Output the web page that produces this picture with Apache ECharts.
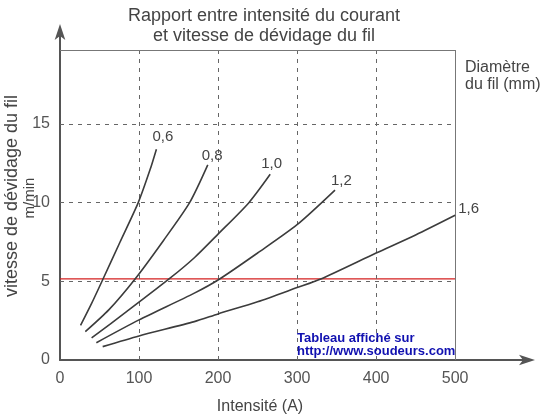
<!DOCTYPE html>
<html><head><meta charset="utf-8">
<script src="https://cdn.jsdelivr.net/npm/echarts@6/dist/echarts.min.js"></script>
<style>html,body{margin:0;padding:0;background:#fff}#c{width:552px;height:420px}</style>
</head><body><div id="c"></div>
<script>
// ---- data ----
const xTicks = [0, 100, 200, 300, 400, 500];
const yTicks = [0, 5, 10, 15];
const diameters = ['0,6', '0,8', '1,0', '1,2', '1,6'];
const d06 = [[26,2.2],[40,3.6],[54,5.1],[76,7.5],[99,10],[114,12.1],[122,13.4]];
const d08 = [[32,1.8],[62,3.2],[95,5.15],[131,7.6],[164,10],[187,12.4]];
const d10 = [[40,1.4],[85,3.1],[138,5.15],[170,6.5],[200,8.0],[239,10],[266,11.8]];
const d12 = [[46,1.1],[100,2.55],[170,4.25],[202,5.15],[250,6.8],[300,8.6],[348,10.8]];
const d16 = [[54,0.85],[100,1.53],[170,2.44],[200,2.93],[250,3.7],[300,4.6],[330,5.15],[400,6.8],[450,7.95],[500,9.2]];
const redLevel = 5.15;
const redLine = [[0, redLevel], [500, redLevel]];
const boxTop = 19.7, boxRight = 500;
const xMax = 596, yMax = 21.1;

const curves = [d06, d08, d10, d12, d16];
const labelOffsets = [[-4,-12],[-6,-9],[-9,-10],[-4,-9],[3,-6]];

const ff = 'Liberation Sans';
const dashed = {color: '#666', type: [4,5], width: 1};
const gridLines = [];
xTicks.filter(v => v > 0 && v < boxRight).forEach(v => gridLines.push([{coord:[v,0]},{coord:[v,boxTop]}]));
yTicks.filter(v => v > 0).forEach(v => gridLines.push([{coord:[0,v]},{coord:[boxRight,v]}]));

const series = [{
  type: 'line', data: [], silent: true, z: 1,
  markLine: {silent: true, symbol: 'none', label: {show: false}, lineStyle: dashed, animation: false, data: gridLines}
},{
  type: 'line', data: [], silent: true, z: 2,
  markLine: {silent: true, symbol: 'none', label: {show: false}, animation: false,
    lineStyle: {color: '#777', type: 'solid', width: 1},
    data: [[{coord:[0,boxTop]},{coord:[boxRight,boxTop]}],[{coord:[boxRight,0]},{coord:[boxRight,boxTop]}]]}
},{
  type: 'line', data: redLine, silent: true, z: 3, showSymbol: false, symbol: 'none',
  lineStyle: {color: '#d42020', width: 1.2}, itemStyle: {color: '#d42020'}
}];
curves.forEach((c, i) => {
  series.push({
    type: 'line', data: c, smooth: 0.25, showSymbol: false, symbol: 'none', z: 5,
    lineStyle: {color: '#3c3c3c', width: 1.6}, itemStyle: {color: '#3c3c3c'},
    endLabel: {show: true, formatter: diameters[i], distance: 0, offset: labelOffsets[i],
      color: '#444', fontSize: 15, fontFamily: ff}
  });
});

const chart = echarts.init(document.getElementById('c'), null, {renderer: 'canvas'});
chart.setOption({
  animation: false,
  grid: {left: 60, right: 21, top: 28, bottom: 60},
  xAxis: {
    type: 'value', min: 0, max: xMax, interval: 100,
    axisLine: {show: true, lineStyle: {color: '#555', width: 2}, symbol: ['none','arrow'], symbolSize: [8,16], symbolOffset: [0, 4]},
    axisTick: {show: false}, splitLine: {show: false},
    axisLabel: {color: '#555', fontSize: 16, fontFamily: ff, margin: 11, showMaxLabel: false,
      formatter: v => xTicks.includes(v) ? String(v) : ''}
  },
  yAxis: {
    type: 'value', min: 0, max: yMax, interval: 5,
    axisLine: {show: true, lineStyle: {color: '#555', width: 2}, symbol: ['none','arrow'], symbolSize: [8,16], symbolOffset: [0, 4]},
    axisTick: {show: false}, splitLine: {show: false},
    axisLabel: {color: '#555', fontSize: 16, fontFamily: ff, margin: 10, showMaxLabel: false,
      formatter: v => yTicks.includes(v) ? String(v) : ''}
  },
  series: series,
  graphic: [
    {type: 'text', style: {text: 'Rapport entre intensité du courant\net vitesse de dévidage du fil', x: 264, y: 26, fill: '#444', font: '18px "Liberation Sans"', textAlign: 'center', textVerticalAlign: 'middle', lineHeight: 20}},
    {type: 'text', style: {text: 'Diamètre\ndu fil (mm)', x: 465, y: 76, fill: '#444', font: '16px "Liberation Sans"', textAlign: 'left', textVerticalAlign: 'middle', lineHeight: 17}},
    {type: 'text', x: 12, y: 196, rotation: Math.PI/2, style: {text: 'vitesse de dévidage du fil', x: 0, y: 0, fill: '#444', font: '18px "Liberation Sans"', textAlign: 'center', textVerticalAlign: 'middle'}},
    {type: 'text', x: 30, y: 198, rotation: Math.PI/2, style: {text: 'm/min', x: 0, y: 0, fill: '#444', font: '15px "Liberation Sans"', textAlign: 'center', textVerticalAlign: 'middle'}},
    {type: 'text', style: {text: 'Intensité (A)', x: 260, y: 407, fill: '#444', font: '16px "Liberation Sans"', textAlign: 'center', textVerticalAlign: 'middle'}},
    {type: 'text', z: 10, style: {text: 'Tableau affiché sur\nhttp://www.soudeurs.com', x: 297, y: 345, fill: '#1010b0', font: 'bold 13px "Liberation Sans"', textAlign: 'left', textVerticalAlign: 'middle', lineHeight: 13}}
  ]
});
</script></body></html>
